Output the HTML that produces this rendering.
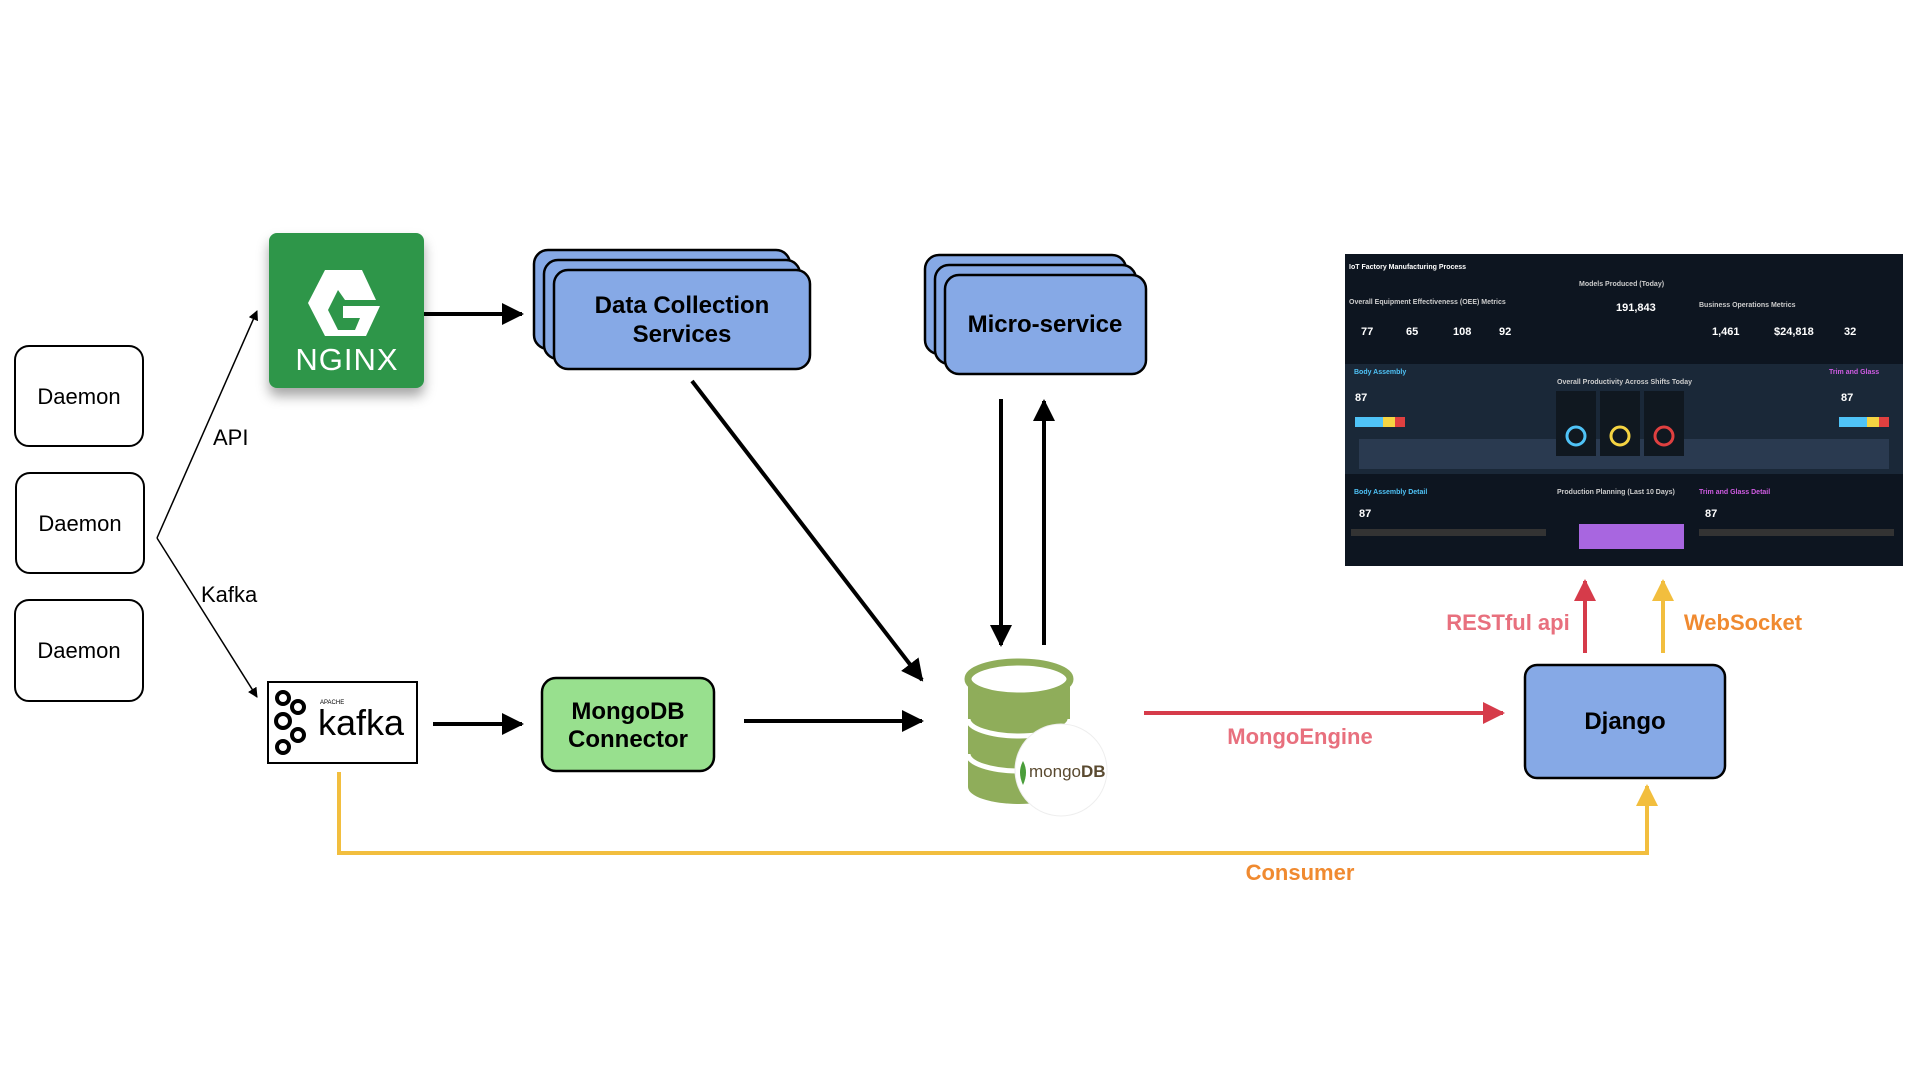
<!DOCTYPE html>
<html><head><meta charset="utf-8"><style>
html,body{margin:0;padding:0;background:#fff;}
svg{display:block;}
text{font-family:"Liberation Sans",sans-serif;}
</style></head><body>
<svg width="1920" height="1080" viewBox="0 0 1920 1080" xmlns="http://www.w3.org/2000/svg">
<defs>
<marker id="ab" markerWidth="10" markerHeight="10" refX="9" refY="5" orient="auto" markerUnits="userSpaceOnUse"><path d="M0,0 L10,5 L0,10 z" fill="#000"/></marker>
<marker id="abig" markerWidth="22" markerHeight="22" refX="20" refY="11" orient="auto" markerUnits="userSpaceOnUse"><path d="M0,0 L22,11 L0,22 z" fill="#000"/></marker>
<marker id="ared" markerWidth="22" markerHeight="22" refX="20" refY="11" orient="auto" markerUnits="userSpaceOnUse"><path d="M0,0 L22,11 L0,22 z" fill="#d63b4a"/></marker>
<marker id="ayel" markerWidth="22" markerHeight="22" refX="20" refY="11" orient="auto" markerUnits="userSpaceOnUse"><path d="M0,0 L22,11 L0,22 z" fill="#f2be3e"/></marker>
<filter id="sh" x="-20%" y="-20%" width="140%" height="150%"><feDropShadow dx="0" dy="8" stdDeviation="6" flood-opacity="0.35"/></filter>
</defs>

<g fill="#fff" stroke="#000" stroke-width="2">
<rect x="15" y="346" width="128" height="100" rx="14"/>
<rect x="16" y="473" width="128" height="100" rx="14"/>
<rect x="15" y="600" width="128" height="101" rx="14"/>
</g>
<g font-size="22" text-anchor="middle">
<text x="79" y="404">Daemon</text>
<text x="80" y="531">Daemon</text>
<text x="79" y="658">Daemon</text>
</g>

<path d="M157,538 L257,311" stroke="#000" stroke-width="1.5" marker-end="url(#ab)"/>
<path d="M157,538 L257,697" stroke="#000" stroke-width="1.5" marker-end="url(#ab)"/>
<text x="213" y="445" font-size="22">API</text>
<text x="201" y="602" font-size="22">Kafka</text>

<rect x="269" y="233" width="155" height="155" rx="8" fill="#2d9649" filter="url(#sh)"/>
<path d="M325,270 L362,270 L376,300 L345,300 L338,290 L328,310 L338,330 L355,330 L360,318 L343,318 L343,306 L380,306 L366,336 L325,336 L308,303 z" fill="#fff"/>
<text x="347" y="370" font-size="31" fill="#fff" text-anchor="middle" letter-spacing="1">NGINX</text>

<g fill="#86a9e6" stroke="#000" stroke-width="2.5">
<rect x="534" y="250" width="256" height="99" rx="14"/>
<rect x="544" y="260" width="256" height="99" rx="14"/>
<rect x="554" y="270" width="256" height="99" rx="14"/>
</g>
<text x="682" y="313" font-size="24" font-weight="bold" text-anchor="middle">Data Collection</text>
<text x="682" y="342" font-size="24" font-weight="bold" text-anchor="middle">Services</text>

<g fill="#86a9e6" stroke="#000" stroke-width="2.5">
<rect x="925" y="255" width="201" height="99" rx="14"/>
<rect x="935" y="265" width="201" height="99" rx="14"/>
<rect x="945" y="275" width="201" height="99" rx="14"/>
</g>
<text x="1045" y="332" font-size="24" font-weight="bold" text-anchor="middle">Micro-service</text>

<rect x="268" y="682" width="149" height="81" fill="#fff" stroke="#000" stroke-width="2"/>
<g fill="none" stroke="#000" stroke-width="4">
<circle cx="283" cy="698" r="6"/><circle cx="298" cy="707" r="6"/><circle cx="283" cy="721" r="7"/><circle cx="298" cy="735" r="6"/><circle cx="283" cy="747" r="6"/>
</g>
<text x="320" y="704" font-size="6">APACHE</text>
<text x="318" y="735" font-size="36" fill="#000">kafka</text>

<rect x="542" y="678" width="172" height="93" rx="14" fill="#98e08e" stroke="#000" stroke-width="2.5"/>
<text x="628" y="719" font-size="24" font-weight="bold" text-anchor="middle">MongoDB</text>
<text x="628" y="747" font-size="24" font-weight="bold" text-anchor="middle">Connector</text>

<g stroke="#000" stroke-width="4" fill="none">
<path d="M424,314 L522,314" marker-end="url(#abig)"/>
<path d="M433,724 L522,724" marker-end="url(#abig)"/>
<path d="M744,721 L922,721" marker-end="url(#abig)"/>
<path d="M692,381 L922,680" marker-end="url(#abig)"/>
<path d="M1001,399 L1001,645" marker-end="url(#abig)"/>
<path d="M1044,645 L1044,401" marker-end="url(#abig)"/>
</g>

<path d="M968,679 L968,787 A51,17 0 0 0 1070,787 L1070,679 z" fill="#8fad5a"/>
<path d="M968,719 A51,17 0 0 0 1070,719 M968,754 A51,17 0 0 0 1070,754" stroke="#fff" stroke-width="5" fill="none"/>
<ellipse cx="1019" cy="679" rx="51" ry="17" fill="#fff" stroke="#8fad5a" stroke-width="7"/>
<circle cx="1061" cy="770" r="46" fill="#fff" stroke="#eee"/>
<path d="M1023,761 Q1017,772 1023,785 Q1029,772 1023,761z" fill="#4a9d3a"/>
<text x="1029" y="777" font-size="17" font-family="Liberation Serif,serif" fill="#5a4a30">mongo<tspan font-weight="bold">DB</tspan></text>

<rect x="1525" y="665" width="200" height="113" rx="12" fill="#86a9e6" stroke="#000" stroke-width="2.5"/>
<text x="1625" y="729" font-size="24" font-weight="bold" text-anchor="middle">Django</text>

<path d="M1144,713 L1503,713" stroke="#d63b4a" stroke-width="4" marker-end="url(#ared)"/>
<text x="1300" y="744" font-size="22" font-weight="bold" fill="#e8707e" text-anchor="middle">MongoEngine</text>
<path d="M1585,653 L1585,581" stroke="#d63b4a" stroke-width="4" marker-end="url(#ared)"/>
<path d="M1663,653 L1663,581" stroke="#f2be3e" stroke-width="4" marker-end="url(#ayel)"/>
<text x="1508" y="630" font-size="22" font-weight="bold" fill="#e8707e" text-anchor="middle">RESTful api</text>
<text x="1743" y="630" font-size="22" font-weight="bold" fill="#f08a30" text-anchor="middle">WebSocket</text>

<path d="M339,772 L339,853 L1647,853 L1647,786" stroke="#f2be3e" stroke-width="4" fill="none" marker-end="url(#ayel)"/>
<text x="1300" y="880" font-size="22" font-weight="bold" fill="#f08a30" text-anchor="middle">Consumer</text>

<rect x="1345" y="254" width="558" height="312" fill="#0d1520"/>
<rect x="1345" y="364" width="558" height="110" fill="#1a2838"/>
<rect x="1359" y="439" width="530" height="30" fill="#2a3a50"/>
<g font-size="7" fill="#fff" font-weight="bold">
<text x="1349" y="269">IoT Factory Manufacturing Process</text>
<text x="1349" y="304" fill="#ccc">Overall Equipment Effectiveness (OEE) Metrics</text>
<text x="1579" y="286" fill="#ccc">Models Produced (Today)</text>
<text x="1699" y="307" fill="#ccc">Business Operations Metrics</text>
<text x="1354" y="374" fill="#4fc3f7">Body Assembly</text>
<text x="1829" y="374" fill="#d05ce3">Trim and Glass</text>
<text x="1557" y="384" fill="#ccc">Overall Productivity Across Shifts Today</text>
<text x="1354" y="494" fill="#4fc3f7">Body Assembly Detail</text>
<text x="1557" y="494" fill="#ccc">Production Planning (Last 10 Days)</text>
<text x="1699" y="494" fill="#d05ce3">Trim and Glass Detail</text>
</g>
<g font-size="11" fill="#fff" font-weight="bold">
<text x="1361" y="335">77</text><text x="1406" y="335">65</text><text x="1453" y="335">108</text><text x="1499" y="335">92</text>
<text x="1616" y="311">191,843</text>
<text x="1712" y="335">1,461</text><text x="1774" y="335">$24,818</text><text x="1844" y="335">32</text>
<text x="1355" y="401">87</text><text x="1841" y="401">87</text>
<text x="1359" y="517">87</text><text x="1705" y="517">87</text>
</g>
<rect x="1355" y="417" width="28" height="10" fill="#4fc3f7"/><rect x="1383" y="417" width="12" height="10" fill="#f5d442"/><rect x="1395" y="417" width="10" height="10" fill="#e04040"/>
<rect x="1839" y="417" width="28" height="10" fill="#4fc3f7"/><rect x="1867" y="417" width="12" height="10" fill="#f5d442"/><rect x="1879" y="417" width="10" height="10" fill="#e04040"/>
<rect x="1556" y="391" width="40" height="65" fill="#101820"/><rect x="1600" y="391" width="40" height="65" fill="#101820"/><rect x="1644" y="391" width="40" height="65" fill="#101820"/>
<circle cx="1576" cy="436" r="9" fill="none" stroke="#4fc3f7" stroke-width="3"/>
<circle cx="1620" cy="436" r="9" fill="none" stroke="#f5d442" stroke-width="3"/>
<circle cx="1664" cy="436" r="9" fill="none" stroke="#e04040" stroke-width="3"/>
<rect x="1579" y="524" width="105" height="25" fill="#a866e0"/>
<rect x="1351" y="529" width="195" height="7" fill="#333"/><rect x="1699" y="529" width="195" height="7" fill="#333"/>
</svg>
</body></html>
